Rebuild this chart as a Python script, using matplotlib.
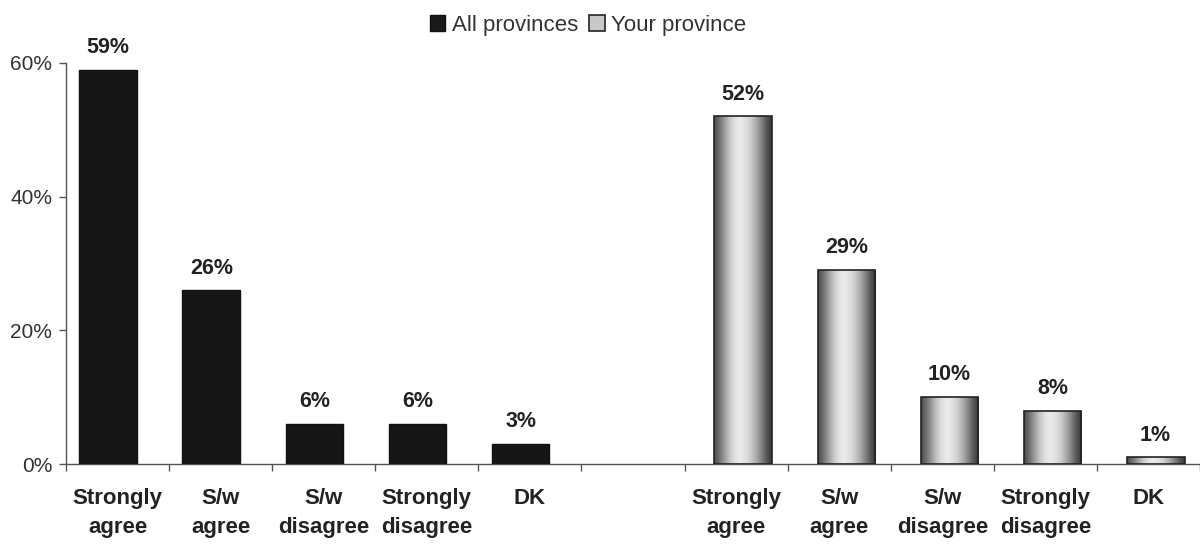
import numpy as np
import matplotlib
matplotlib.use("Agg")
import matplotlib.pyplot as plt
from matplotlib.patches import Patch

plt.rcParams['font.family'] = ['Liberation Sans', 'DejaVu Sans']

categories = ["Strongly\nagree", "S/w\nagree", "S/w\ndisagree", "Strongly\ndisagree", "DK"]
all_provinces = [59, 26, 6, 6, 3]
your_province = [52, 29, 10, 8, 1]
y_ticks = [0, 20, 40, 60]
series_names = ["All provinces", "Your province"]

fig = plt.figure(figsize=(12, 5.48), dpi=100)
ax = fig.add_axes([66 / 1200, 84 / 548, (1200 - 66) / 1200, 401 / 548])

n = len(categories)
x_left = np.arange(n)
x_right = np.arange(n) + n + 1
width = 0.56

bars_l = ax.bar(x_left - 0.09, all_provinces, width=width, color="#161616",
                edgecolor="#111111", linewidth=1.0, zorder=3)
bars_r = ax.bar(x_right + 0.07, your_province, width=width, color="#b0b0b0",
                edgecolor="#222222", linewidth=1.2, zorder=3)

# cylinder-like gradient on the right series
grad = np.array([0.30, 0.45, 0.62, 0.78, 0.88, 0.92, 0.88, 0.80, 0.68, 0.52, 0.35, 0.22])
grad = np.interp(np.linspace(0, len(grad) - 1, 64), np.arange(len(grad)), grad)
img = np.tile(grad, (2, 1))
for b in bars_r:
    x0, w, h = b.get_x(), b.get_width(), b.get_height()
    im = ax.imshow(img, cmap="gray", vmin=0, vmax=1, aspect="auto",
                   extent=(x0, x0 + w, 0, h), zorder=3.5, interpolation="bilinear")
    im.set_clip_path(b)
    b.set_zorder(4)
    b.set_facecolor("none")

ax.set_xlim(-0.5, 10.42)
ax.set_ylim(0, 60)

for bars, vals in ((bars_l, all_provinces), (bars_r, your_province)):
    for b, v in zip(bars, vals):
        ax.annotate(f"{v}%", (b.get_x() + b.get_width() / 2, b.get_height()),
                    xytext=(0, 16), textcoords="offset points", ha="center",
                    va="center", fontsize=15.5, fontweight="bold", color="#222222",
                    annotation_clip=False)

ax.set_yticks(y_ticks)
ax.set_yticklabels([f"{t}%" for t in y_ticks], fontsize=15, color="#333333")
ax.tick_params(axis="y", direction="out", length=5, width=1, color="#555555", pad=5)

ax.set_xticks(list(x_left) + list(x_right))
ax.set_xticklabels(categories + categories, fontsize=16, fontweight="bold",
                   color="#222222", linespacing=1.5)
ax.tick_params(axis="x", which="major", length=0, pad=17)
ax.set_xticks(np.arange(-0.5, 10.6, 1), minor=True)
ax.tick_params(axis="x", which="minor", direction="out", length=5, width=1, color="#555555")

for s in ("top", "right"):
    ax.spines[s].set_visible(False)
for s in ("left", "bottom"):
    ax.spines[s].set_color("#555555")
    ax.spines[s].set_linewidth(1.0)

handles = [Patch(facecolor="#1a1a1a", edgecolor="#111111"),
           Patch(facecolor="#c8c8c8", edgecolor="#222222", linewidth=1.2)]
fig.legend(handles, series_names, loc="upper center", bbox_to_anchor=(0.49, 1.01),
           ncol=2, frameon=False, fontsize=16, handlelength=0.7, handleheight=0.7,
           handletextpad=0.3, columnspacing=0.5, labelcolor="#333333")

fig.savefig("out.png", dpi=100, facecolor="white")
